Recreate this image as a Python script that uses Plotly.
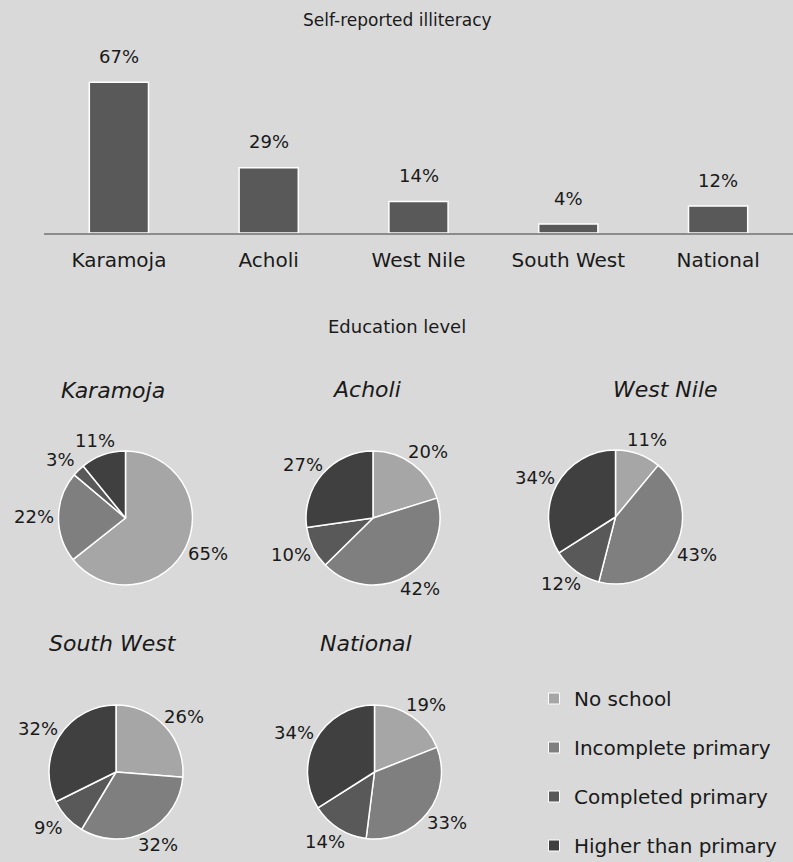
import math
import plotly.graph_objects as go

# ---------------- data ----------------
regions = ["Karamoja", "Acholi", "West Nile", "South West", "National"]
illiteracy = [67, 29, 14, 4, 12]

levels = ["No school", "Incomplete primary", "Completed primary", "Higher than primary"]
edu_karamoja = [65, 22, 3, 11]
edu_acholi = [20, 42, 10, 27]
edu_west_nile = [11, 43, 12, 34]
edu_south_west = [26, 32, 9, 32]
edu_national = [19, 33, 14, 34]

# ---------------- style ----------------
W, H = 793, 862
BG = "#d9d9d9"
BAR_COLOR = "#595959"
LEVEL_COLORS = ["#a6a6a6", "#7f7f7f", "#595959", "#404040"]
TXT = "#1a1a1a"
FONT = "DejaVu Sans"


def fx(px):
    return px / W


def fy(py):
    return 1 - py / H


fig = go.Figure()

# ---------------- bar chart ----------------
axis_y = 233
top_y = 40
px_per_unit = 2.25
fig.add_trace(go.Bar(
    x=regions, y=illiteracy, width=0.395,
    marker=dict(color=BAR_COLOR, line=dict(color="white", width=1.5)),
    showlegend=False, hoverinfo="skip",
))

for r, v in zip(regions, illiteracy):
    fig.add_annotation(x=r, y=v, xref="x", yref="y", text=f"{v}%",
                       showarrow=False, yanchor="middle", yshift=26,
                       font=dict(size=18, color=TXT, family=FONT))

# ---------------- pies ----------------
pie_series = [edu_karamoja, edu_acholi, edu_west_nile, edu_south_west, edu_national]
pie_centers = [(125.5, 518), (373, 518), (615.5, 517), (116, 772), (374.5, 772)]
title_pos = [(112.5, 390), (366, 389), (665, 389), (113, 643), (366, 643)]
R = 67
LABEL_GAP = 6      # gap between pie edge and label box
HALF_W, HALF_H = 19, 9   # approx half size of a label box

for name, vals, (cx, cy), (tx, ty) in zip(regions, pie_series, pie_centers, title_pos):
    fig.add_trace(go.Pie(
        labels=levels, values=vals, sort=False, direction="clockwise", rotation=0,
        marker=dict(colors=LEVEL_COLORS, line=dict(color="white", width=1.5)),
        textinfo="none",
        domain=dict(x=[fx(cx - R), fx(cx + R)], y=[fy(cy + R), fy(cy - R)]),
        showlegend=False, hoverinfo="skip",
    ))
    # data labels placed outside each slice at its mid angle
    total = sum(vals)
    cum = 0
    for v in vals:
        mid = (cum + v / 2) / total * 2 * math.pi
        cum += v
        dx, dy = math.sin(mid), -math.cos(mid)
        lx = cx + dx * (R + LABEL_GAP) + dx * HALF_W
        ly = cy + dy * (R + LABEL_GAP) + dy * HALF_H
        fig.add_annotation(x=fx(lx), y=fy(ly), xref="paper", yref="paper",
                           text=f"{v}%", showarrow=False,
                           xanchor="center", yanchor="middle",
                           font=dict(size=18, color=TXT, family=FONT))
    fig.add_annotation(x=fx(tx), y=fy(ty), xref="paper", yref="paper",
                       text=f"<i>{name}</i>", showarrow=False,
                       xanchor="center", yanchor="middle",
                       font=dict(size=22, color=TXT, family=FONT))

# legend entries
for lvl, c in zip(levels, LEVEL_COLORS):
    fig.add_trace(go.Scatter(
        x=[None], y=[None], mode="markers", name=lvl, legendgroup=lvl,
        marker=dict(symbol="square", size=11, color=c, line=dict(color="white", width=1)),
        showlegend=True, hoverinfo="skip",
    ))

# titles
fig.add_annotation(x=fx(397), y=fy(20), xref="paper", yref="paper",
                   text="Self-reported illiteracy", showarrow=False,
                   xanchor="center", yanchor="middle",
                   font=dict(size=17, color=TXT, family=FONT))
fig.add_annotation(x=fx(397), y=fy(327), xref="paper", yref="paper",
                   text="Education level", showarrow=False,
                   xanchor="center", yanchor="middle",
                   font=dict(size=18, color=TXT, family=FONT))

fig.update_layout(
    width=W, height=H,
    margin=dict(l=0, r=0, t=0, b=0, autoexpand=False),
    paper_bgcolor=BG, plot_bgcolor=BG,
    font=dict(family=FONT, color=TXT),
    xaxis=dict(domain=[fx(44), 1], showline=True, linecolor="#8c8c8c", linewidth=2,
               ticks="", showgrid=False, zeroline=False,
               tickfont=dict(size=20, color=TXT, family=FONT), ticklabelstandoff=8,
               fixedrange=True, automargin=False),
    yaxis=dict(domain=[fy(axis_y), fy(top_y)], range=[0, (axis_y - top_y) / px_per_unit],
               visible=False, fixedrange=True),
    legend=dict(x=fx(534), y=fy(679), xanchor="left", yanchor="top",
                xref="container", yref="container",
                font=dict(size=20, color=TXT, family=FONT), tracegroupgap=20,
                bgcolor="rgba(0,0,0,0)"),
    bargap=0.6,
)

fig.write_html("out.html")
